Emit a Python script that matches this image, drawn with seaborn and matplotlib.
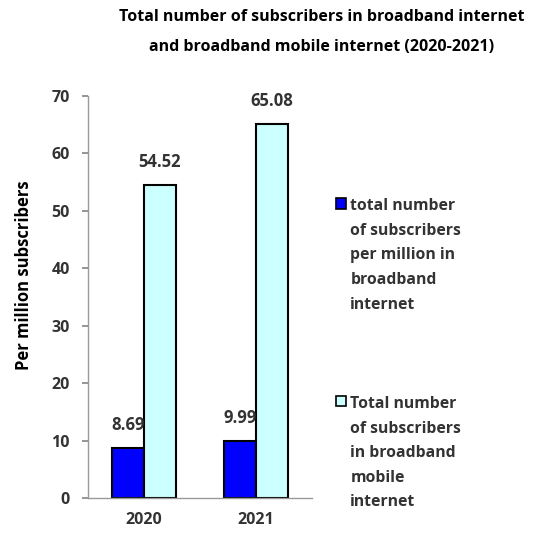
import matplotlib
matplotlib.use("Agg")
import matplotlib.pyplot as plt
import seaborn as sns
import pandas as pd

# ── Data ──────────────────────────────────────────────────────────────────────
YEARS = ["2020", "2021"]
FIXED_BB = [8.69, 9.99]
MOBILE_BB = [54.52, 65.08]
SERIES = [
    "total number\nof subscribers\nper million in\nbroadband\ninternet",
    "Total number\nof subscribers\nin broadband\nmobile\ninternet",
]
COLORS = ["#0000FF", "#CCFFFF"]
TITLE = ("Total number of subscribers in broadband internet\n"
         "and broadband mobile internet (2020-2021)")
YLABEL = "Per million subscribers"

df = pd.DataFrame({
    "year": YEARS * 2,
    "value": FIXED_BB + MOBILE_BB,
    "series": [SERIES[0]] * len(YEARS) + [SERIES[1]] * len(YEARS),
})

sns.set_theme(style="white")
plt.rcParams["font.family"] = ["Open Sans", "DejaVu Sans"]
TXT = "#333333"

fig = plt.figure(figsize=(5.38, 5.34), dpi=100)
ax = fig.add_axes([88 / 538, 36 / 534, 224 / 538, 402 / 534])

sns.barplot(data=df, x="year", y="value", hue="series", palette=COLORS,
            width=0.57, edgecolor="black", linewidth=1.5, saturation=1,
            ax=ax, legend=False)

for cont in ax.containers:
    ax.bar_label(cont, labels=[f"{v:.2f}" for v in cont.datavalues],
                 padding=10, fontsize=12, fontweight="bold", color=TXT)

ax.set_ylim(0, 70)
ax.set_xlim(-0.5, 1.5)
ax.set_yticks(range(0, 71, 10))
ax.set_xticks([0, 1])
ax.set_xticks([-0.5, 0.5, 1.5], minor=True)
ax.tick_params(axis="x", which="major", length=0, pad=10)
ax.tick_params(axis="x", which="minor", length=4, color="#888888")
ax.tick_params(axis="y", length=4, color="#888888", direction="out", left=True, pad=9)
for lab in ax.get_xticklabels() + ax.get_yticklabels():
    lab.set_fontweight("bold")
    lab.set_fontsize(11.5)
    lab.set_color(TXT)

ax.set_xlabel("")
ax.set_ylabel(YLABEL, fontsize=12, fontweight="bold", color="black")
ax.yaxis.set_label_coords(-0.245, 0.555)
sns.despine(ax=ax)
for s in ["left", "bottom"]:
    ax.spines[s].set_color("#999999")
    ax.spines[s].set_linewidth(1)

fig.text(322 / 538, 1 - 32 / 534, TITLE, ha="center", va="center",
         fontsize=11.5, fontweight="bold", linespacing=2.1, color="black")

handles = [plt.Rectangle((0, 0), 1, 1, facecolor=c, edgecolor="black", linewidth=1.2)
           for c in COLORS]
leg = fig.legend(handles, SERIES, loc="upper left", bbox_to_anchor=(322 / 538, 1 - 184 / 534),
                 frameon=False, handlelength=0.65, handleheight=0.65,
                 handletextpad=0.25, labelspacing=5.3, prop={"weight": "bold", "size": 11.3})
for t in leg.get_texts():
    t.set_linespacing(1.72)
    t.set_color(TXT)
# align each square with the first line of its label
for col in leg._legend_handle_box.get_children():
    for item in col.get_children():
        item.align = "top"

plt.savefig("out.png", dpi=100)
